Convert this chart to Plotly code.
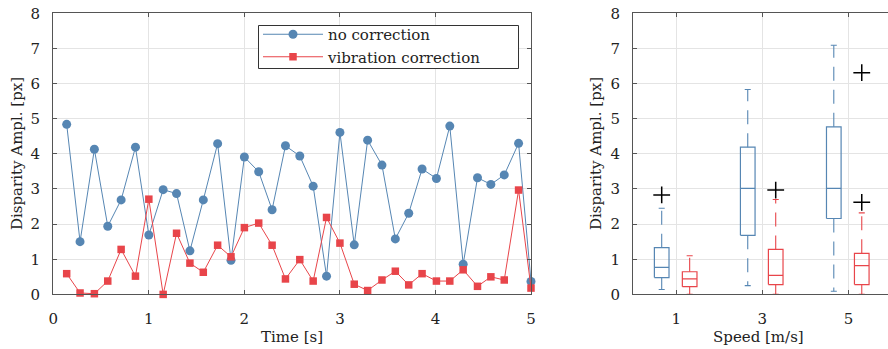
import plotly.graph_objects as go

# ---------------- data ----------------
time_s = [0.14, 0.28, 0.43, 0.57, 0.71, 0.86, 1.00, 1.15, 1.29, 1.43, 1.57, 1.72,
          1.86, 2.00, 2.15, 2.29, 2.43, 2.58, 2.72, 2.86, 3.00, 3.15, 3.29, 3.44,
          3.58, 3.72, 3.86, 4.01, 4.15, 4.29, 4.44, 4.58, 4.72, 4.87, 5.00]
no_correction = [4.84, 1.50, 4.13, 1.94, 2.69, 4.19, 1.69, 2.98, 2.87, 1.24, 2.69, 4.29,
                 0.97, 3.91, 3.49, 2.41, 4.23, 3.94, 3.08, 0.52, 4.61, 1.41, 4.39, 3.68,
                 1.58, 2.31, 3.57, 3.30, 4.79, 0.86, 3.32, 3.13, 3.40, 4.30, 0.37]
vibration_correction = [0.59, 0.04, 0.02, 0.38, 1.28, 0.52, 2.71, 0.00, 1.74, 0.89, 0.63, 1.40,
                        1.07, 1.90, 2.03, 1.40, 0.44, 0.99, 0.38, 2.19, 1.46, 0.29, 0.11, 0.41,
                        0.66, 0.27, 0.59, 0.38, 0.38, 0.70, 0.23, 0.50, 0.41, 2.97, 0.18]

speeds = [1, 3, 5]
# box statistics (no correction)
nc_low = [0.14, 0.25, 0.09]
nc_q1 = [0.48, 1.68, 2.16]
nc_med = [0.77, 3.02, 3.02]
nc_q3 = [1.33, 4.19, 4.77]
nc_high = [2.45, 5.83, 7.09]
nc_out_x = [1]
nc_out_y = [2.83]
# box statistics (vibration correction)
vc_low = [0.00, 0.00, 0.00]
vc_q1 = [0.22, 0.28, 0.28]
vc_med = [0.44, 0.54, 0.82]
vc_q3 = [0.645, 1.28, 1.17]
vc_high = [1.10, 2.70, 2.32]
vc_out_x = [3, 5, 5]
vc_out_y = [2.97, 6.31, 2.62]

BLUE = "#5686b3"
RED = "#e8454a"
FONT = "DejaVu Serif"
AXC = "#555555"
GRID = "#e4e4e4"
W, H = 888, 349

fig = go.Figure()

fig.add_trace(go.Scatter(x=time_s, y=no_correction, mode="lines+markers", name="no correction",
                         line=dict(color=BLUE, width=1), marker=dict(symbol="circle", size=9, color=BLUE),
                         cliponaxis=False, xaxis="x", yaxis="y"))
fig.add_trace(go.Scatter(x=time_s, y=vibration_correction, mode="lines+markers",
                         name="vibration correction",
                         line=dict(color=RED, width=1), marker=dict(symbol="square", size=7.5, color=RED),
                         cliponaxis=False, xaxis="x", yaxis="y"))

BOXW = 0.34
CAPW = 0.14


def add_boxes(offset, low, q1, med, q3, high, color):
    bx, by, wx, wy, cx, cy = [], [], [], [], [], []
    for s, lo, a, m, b, hi in zip(speeds, low, q1, med, q3, high):
        c = s + offset
        x0, x1 = c - BOXW / 2, c + BOXW / 2
        bx += [x0, x1, x1, x0, x0, None, x0, x1, None]
        by += [a, a, b, b, a, None, m, m, None]
        wx += [c, c, None, c, c, None]
        wy += [b, hi, None, a, lo, None]
        cx += [c - CAPW / 2, c + CAPW / 2, None, c - CAPW / 2, c + CAPW / 2, None]
        cy += [hi, hi, None, lo, lo, None]
    common = dict(xaxis="x2", yaxis="y2", showlegend=False, mode="lines", hoverinfo="skip")
    fig.add_trace(go.Scatter(x=wx, y=wy, line=dict(color=color, width=1.1, dash="14px,9px"), **common))
    fig.add_trace(go.Scatter(x=cx, y=cy, line=dict(color=color, width=1.1), **common))
    fig.add_trace(go.Scatter(x=bx, y=by, line=dict(color=color, width=1.2), **common))


add_boxes(-0.34, nc_low, nc_q1, nc_med, nc_q3, nc_high, BLUE)
add_boxes(0.31, vc_low, vc_q1, vc_med, vc_q3, vc_high, RED)

fig.add_trace(go.Scatter(x=[v - 0.34 for v in nc_out_x] + [v + 0.31 for v in vc_out_x],
                         y=nc_out_y + vc_out_y, mode="markers", showlegend=False,
                         marker=dict(symbol="cross-thin-open", size=12, color="black",
                                     line=dict(color="black", width=1.5)),
                         xaxis="x2", yaxis="y2", cliponaxis=False))

y0, y1 = 1 - 294.4 / H, 1 - 13.3 / H
axis_common = dict(showline=True, linecolor=AXC, linewidth=1.3, ticks="inside", ticklen=4,
                   tickcolor=AXC, showgrid=True, gridcolor=GRID, gridwidth=1, zeroline=False,
                   automargin=False, tickfont=dict(family=FONT, size=15, color="#222"))

ann_font = dict(family=FONT, size=15, color="#222")
fig.update_layout(
    template="none",
    width=W, height=H, margin=dict(l=0, r=0, t=0, b=0, pad=0),
    paper_bgcolor="white", plot_bgcolor="white",
    font=dict(family=FONT, size=15, color="#222"),
    xaxis=dict(domain=[53.3 / W, 531 / W], range=[0, 5], dtick=1, mirror="ticks",
               ticklabelstandoff=10, anchor="y", **axis_common),
    yaxis=dict(domain=[y0, y1], range=[0, 8], dtick=1, mirror="ticks",
               ticklabelstandoff=9, anchor="x", **axis_common),
    xaxis2=dict(domain=[633.3 / W, 1.0], range=[0, 5.92], tickvals=speeds, mirror="ticks",
                ticklabelstandoff=10, anchor="y2", **axis_common),
    yaxis2=dict(domain=[y0, y1], range=[0, 8], dtick=1, mirror=False,
                ticklabelstandoff=9, anchor="x2", **axis_common),
    legend=dict(x=258 / W, y=1 - 18 / H, xanchor="left", yanchor="top",
                bgcolor="rgba(0,0,0,0)", borderwidth=0,
                itemwidth=60, font=dict(family=FONT, size=15, color="#222"),
                tracegroupgap=0),
    showlegend=True,
    shapes=[
        dict(type="rect", xref="paper", yref="paper", layer="above",
             x0=258.5 / W, x1=518.5 / W, y0=1 - 68.5 / H, y1=1 - 25.5 / H,
             fillcolor="white", line=dict(color="#333", width=1)),
    ],
    annotations=[
        dict(text="Time [s]", x=292 / W, y=1 - 337 / H, xref="paper", yref="paper",
             xanchor="center", yanchor="middle", showarrow=False, font=ann_font),
        dict(text="Speed [m/s]", x=758 / W, y=1 - 337 / H, xref="paper", yref="paper",
             xanchor="center", yanchor="middle", showarrow=False, font=ann_font),
        dict(text="Disparity Ampl. [px]", x=17 / W, y=1 - 154 / H, xref="paper", yref="paper",
             xanchor="center", yanchor="middle", showarrow=False, textangle=-90, font=ann_font),
        dict(text="Disparity Ampl. [px]", x=596 / W, y=1 - 154 / H, xref="paper", yref="paper",
             xanchor="center", yanchor="middle", showarrow=False, textangle=-90, font=ann_font),
    ],
)

fig.write_html("out.html")
